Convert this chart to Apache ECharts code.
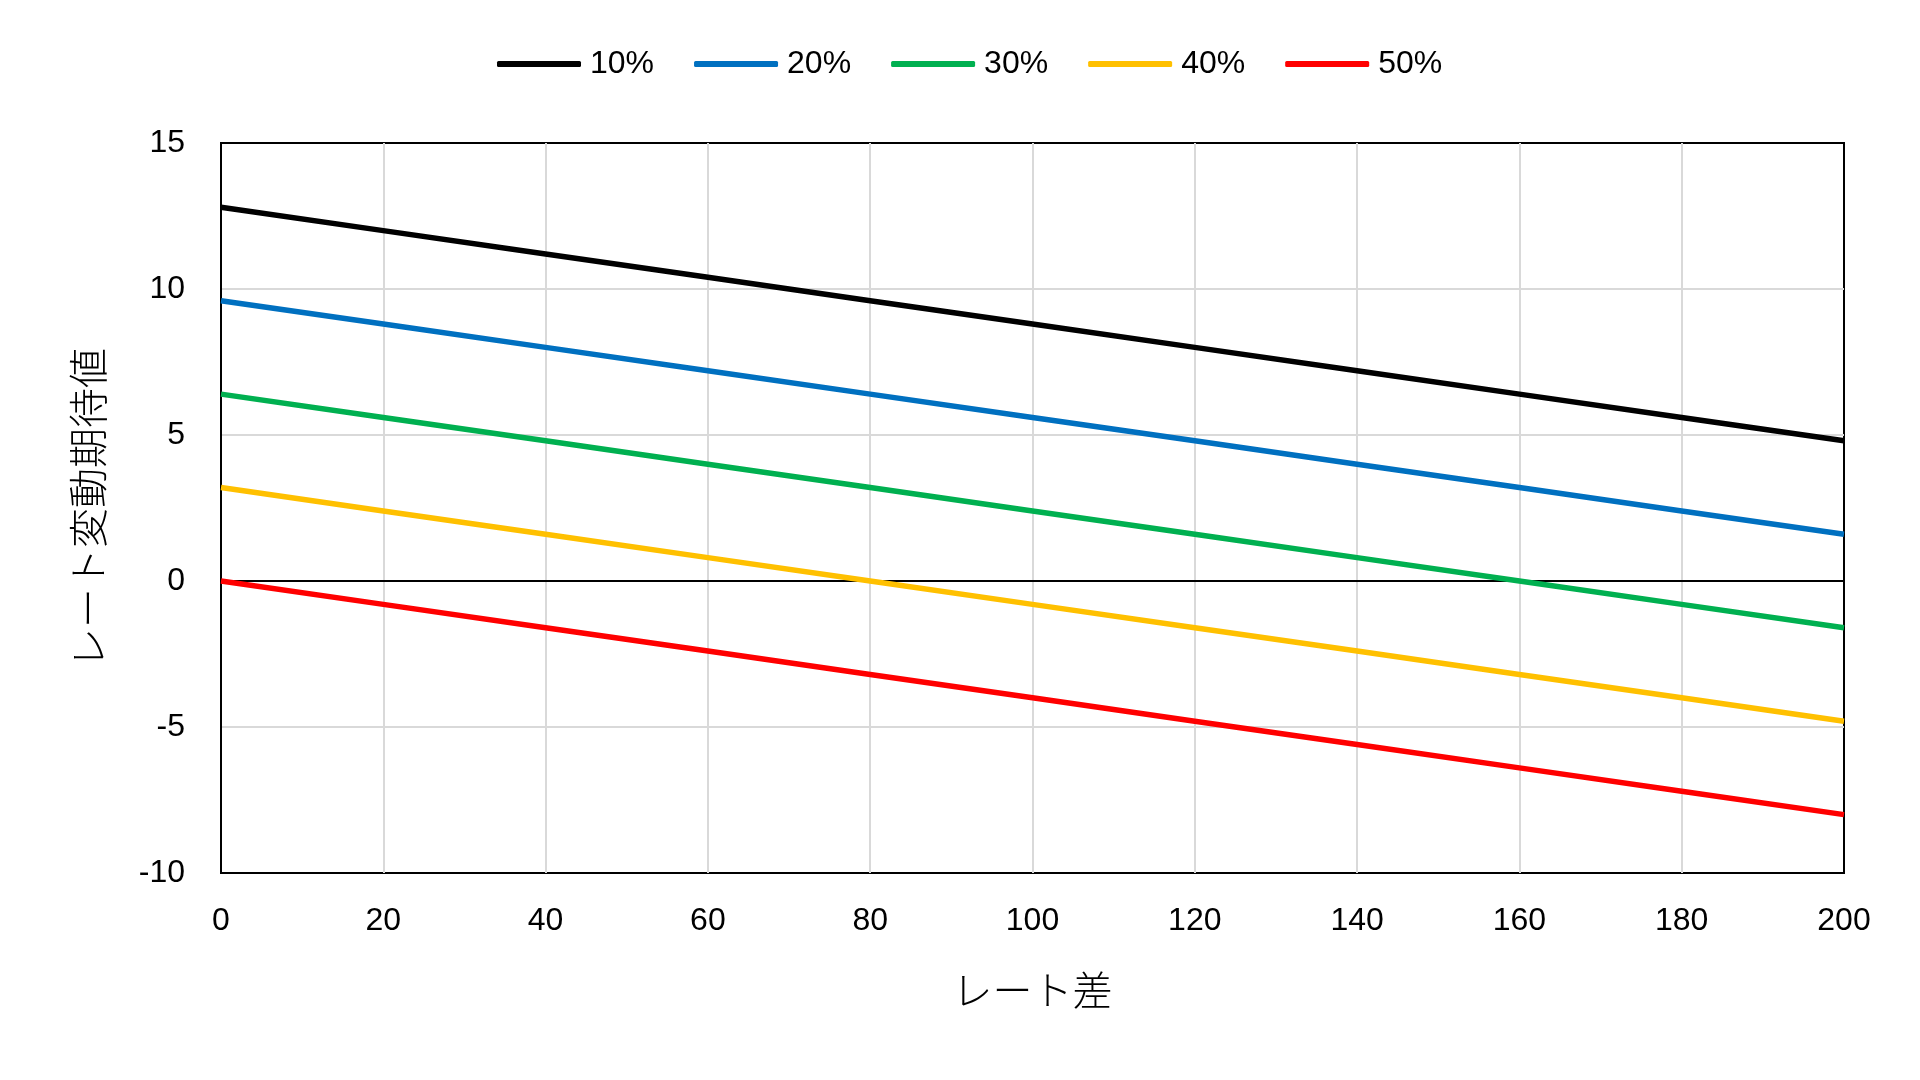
<!DOCTYPE html>
<html>
<head>
<meta charset="utf-8">
<script src="https://cdn.jsdelivr.net/npm/echarts@6/dist/echarts.min.js"></script>
<style>html,body{margin:0;padding:0;background:#fff;}#c{width:1920px;height:1080px;}</style>
</head>
<body>
<div id="c"></div>
<script>
const xValues = [0, 20, 40, 60, 80, 100, 120, 140, 160, 180, 200];
const seriesNames = ['10%', '20%', '30%', '40%', '50%'];
const s10 = [12.8, 12.0, 11.2, 10.4, 9.6, 8.8, 8.0, 7.2, 6.4, 5.6, 4.8];
const s20 = [9.6, 8.8, 8.0, 7.2, 6.4, 5.6, 4.8, 4.0, 3.2, 2.4, 1.6];
const s30 = [6.4, 5.6, 4.8, 4.0, 3.2, 2.4, 1.6, 0.8, 0.0, -0.8, -1.6];
const s40 = [3.2, 2.4, 1.6, 0.8, 0.0, -0.8, -1.6, -2.4, -3.2, -4.0, -4.8];
const s50 = [0.0, -0.8, -1.6, -2.4, -3.2, -4.0, -4.8, -5.6, -6.4, -7.2, -8.0];
const colors = ['#000000', '#0070C0', '#00B050', '#FFC000', '#FF0000'];
const allSeries = [s10, s20, s30, s40, s50];

const FONT = '"Liberation Sans", Arial, "Noto Sans CJK JP", sans-serif';
const JFONT = '"Noto Sans CJK JP", "Liberation Sans", sans-serif';

const chart = echarts.init(document.getElementById('c'));
const series = allSeries.map((vals, i) => {
  const s = {
    name: seriesNames[i],
    type: 'line',
    data: xValues.map((x, k) => [x, vals[k]]),
    symbol: 'none',
    lineStyle: { color: colors[i], width: 5.5 },
    itemStyle: { color: colors[i] },
    z: 3 + i
  };
  if (i === 0) {
    s.markLine = {
      silent: true,
      symbol: 'none',
      label: { show: false },
      lineStyle: { color: '#000', width: 2, type: 'solid' },
      data: [{ yAxis: 0 }],
      animation: false
    };
  }
  return s;
});

chart.setOption({
  animation: false,
  backgroundColor: '#fff',
  color: colors,
  legend: {
    top: 43,
    left: 492,
    icon: 'roundRect',
    itemWidth: 84,
    itemHeight: 6,
    itemGap: 40,
    textStyle: { fontFamily: FONT, fontSize: 32, color: '#000', padding: [0, 0, 0, 4] },
    data: seriesNames
  },
  grid: {
    left: 221, right: 76, top: 143, bottom: 207,
    show: true, borderColor: '#000', borderWidth: 2, backgroundColor: 'transparent'
  },
  xAxis: {
    type: 'value', min: 0, max: 200, interval: 20,
    name: 'レート差', nameLocation: 'middle', nameGap: 97,
    nameTextStyle: { fontFamily: JFONT, fontSize: 40, fontWeight: 300, color: '#000' },
    axisLine: { show: true, lineStyle: { color: '#000', width: 2 } },
    axisTick: { show: false },
    axisLabel: { fontFamily: FONT, fontSize: 32, color: '#000', margin: 32 },
    splitLine: { show: true, showMinLine: false, showMaxLine: false, lineStyle: { color: '#d9d9d9', width: 2 } }
  },
  yAxis: {
    type: 'value', min: -10, max: 15, interval: 5,
    name: 'レート変動期待値', nameLocation: 'middle', nameGap: 113, nameRotate: 90,
    nameTextStyle: { fontFamily: JFONT, fontSize: 40, fontWeight: 300, color: '#000' },
    axisLine: { show: true, lineStyle: { color: '#000', width: 2 } },
    axisTick: { show: false },
    axisLabel: { fontFamily: FONT, fontSize: 32, color: '#000', margin: 36 },
    splitLine: { show: true, showMinLine: false, showMaxLine: false, lineStyle: { color: '#d9d9d9', width: 2 } }
  },
  series: series
});
</script>
</body>
</html>
